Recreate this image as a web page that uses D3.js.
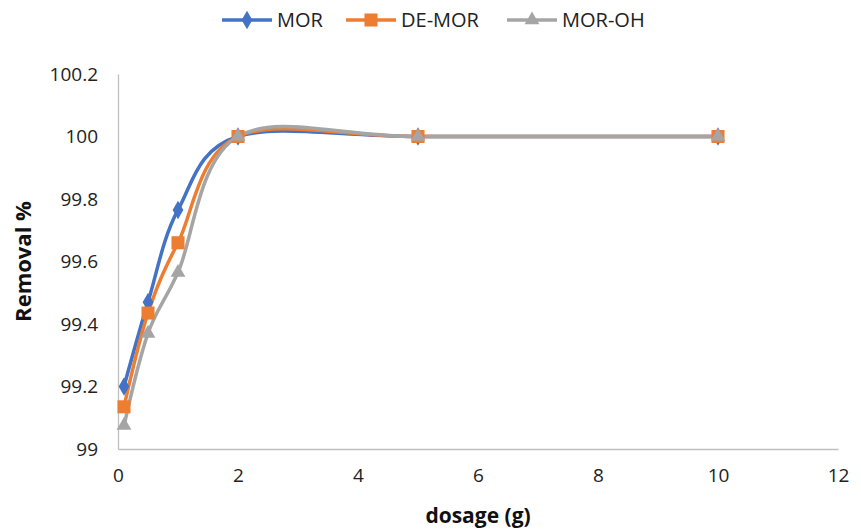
<!DOCTYPE html>
<html>
<head>
<meta charset="utf-8">
<script src="https://cdn.jsdelivr.net/npm/d3@7"></script>
<style>
    body { margin: 0; background: #fff; }
    text { font-family: "Open Sans", "Noto Sans", sans-serif; }
</style>
</head>
<body>
<script>
// dosage values (g)
const dosage = [0.1, 0.5, 1, 2, 5, 10];

// removal % for each sorbent
const morValues = [99.2, 99.47, 99.765, 100, 100, 100];
const deMorValues = [99.135, 99.435, 99.66, 100, 100, 100];
const morOhValues = [99.075, 99.37, 99.565, 100, 100, 100];

const seriesNames = ["MOR", "DE-MOR", "MOR-OH"];
const xTicks = [0, 2, 4, 6, 8, 10, 12];
const yTicks = [99, 99.2, 99.4, 99.6, 99.8, 100, 100.2];

const width = 861,
    height = 529;

const margin = { top: 75, right: 23, bottom: 80, left: 118 };

const series = [
    { name: seriesNames[0], values: morValues, color: "#4472C4", symbol: d3.symbolDiamond, size: 100 },
    { name: seriesNames[1], values: deMorValues, color: "#ED7D31", symbol: d3.symbolSquare, size: 170 },
    { name: seriesNames[2], values: morOhValues, color: "#A5A5A5", symbol: d3.symbolTriangle, size: 95 }
];

const svg = d3.select("body").append("svg")
    .attr("width", width)
    .attr("height", height);

const x = d3.scaleLinear()
    .domain([0, 12])
    .range([margin.left, width - margin.right]);

const y = d3.scaleLinear()
    .domain([99, 100.2])
    .range([height - margin.bottom, margin.top - 1]);

// axes - no tick marks, just the grey lines and labels
const xAxis = svg.append("g")
    .attr("transform", `translate(0,${y(99)})`)
    .call(d3.axisBottom(x).tickValues(xTicks).tickSize(0).tickPadding(20).tickFormat(d3.format("d")));

const yAxis = svg.append("g")
    .attr("transform", `translate(${x(0)},0)`)
    .call(d3.axisLeft(y).tickValues(yTicks).tickSize(0).tickPadding(20).tickFormat(d => +d.toFixed(1)));

[xAxis, yAxis].forEach(g => {
    g.select(".domain").attr("stroke", "#BFBFBF").attr("stroke-width", 1.3);
    g.selectAll("text")
        .attr("fill", "#222")
        .style("font-size", "19px");
});

// axis titles
svg.append("text")
    .attr("x", x(6))
    .attr("y", 523)
    .attr("text-anchor", "middle")
    .style("font-size", "21px")
    .style("font-weight", "bold")
    .attr("fill", "#111")
    .text("dosage (g)");

svg.append("text")
    .attr("transform", `translate(31,${y(99.6)}) rotate(-90)`)
    .attr("text-anchor", "middle")
    .style("font-size", "22px")
    .style("font-weight", "bold")
    .attr("fill", "#111")
    .text("Removal %");

// smoothed lines like excel
const line = d3.line()
    .x(d => x(d[0]))
    .y(d => y(d[1]))
    .curve(d3.curveCardinal.tension(0));

const plot = svg.append("g");

series.forEach(s => {
    const pts = dosage.map((d, i) => [d, s.values[i]]);
    plot.append("path")
        .datum(pts)
        .attr("fill", "none")
        .attr("stroke", s.color)
        .attr("stroke-width", 3.5)
        .attr("d", line);
});

series.forEach(s => {
    const pts = dosage.map((d, i) => [d, s.values[i]]);
    plot.append("g")
        .selectAll("path")
        .data(pts)
        .enter().append("path")
        .attr("transform", d => `translate(${x(d[0])},${y(d[1])})`)
        .attr("d", d3.symbol().type(s.symbol).size(s.size))
        .attr("fill", s.color);
});

// legend
const legendX = [222, 346, 507];
const legend = svg.append("g");
series.forEach((s, i) => {
    const g = legend.append("g").attr("transform", `translate(${legendX[i]},20)`);
    g.append("line")
        .attr("x1", 0).attr("x2", 50)
        .attr("stroke", s.color)
        .attr("stroke-width", 3.5);
    g.append("path")
        .attr("transform", "translate(25,0)")
        .attr("d", d3.symbol().type(s.symbol).size(s.size))
        .attr("fill", s.color);
    g.append("text")
        .attr("x", 55)
        .attr("dy", "0.35em")
        .style("font-size", "20px")
        .attr("fill", "#222")
        .text(s.name);
});
</script>
</body>
</html>
